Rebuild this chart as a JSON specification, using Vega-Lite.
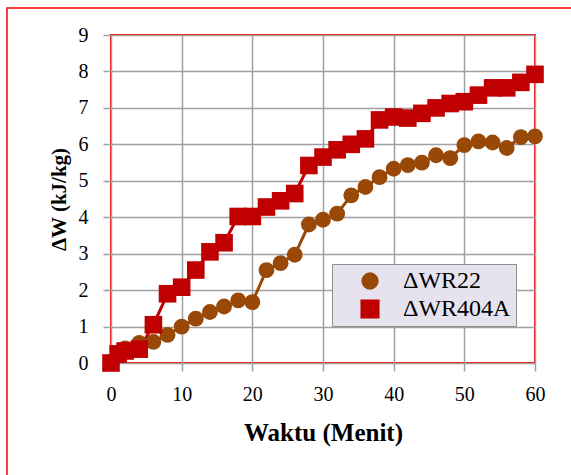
{
  "$schema": "https://vega.github.io/schema/vega-lite/v6.json",
  "autosize": {"type": "none"},
  "padding": {"left": 111, "top": 35, "right": 36, "bottom": 112},
  "width": 424,
  "height": 328,
  "background": "white",
  "config": {
    "font": "Liberation Serif, DejaVu Serif, serif",
    "view": {"stroke": "#FF0000", "strokeWidth": 2},
    "axis": {
      "labelFont": "Liberation Serif, DejaVu Serif, serif",
      "labelFontSize": 20,
      "labelColor": "#000000",
      "labelFlush": false,
      "titleFont": "Liberation Serif, DejaVu Serif, serif",
      "titleFontWeight": "bold",
      "titleColor": "#000000",
      "gridColor": "#A0A0A0",
      "gridWidth": 1.5,
      "gridOpacity": 1,
      "domain": false,
      "tickColor": "#A0A0A0",
      "tickWidth": 1.5,
      "tickSize": 8
    }
  },
  "data": {
    "values": [
      {"t": 0, "v": 0, "s": "ΔWR22"},
      {"t": 1, "v": 0.25, "s": "ΔWR22"},
      {"t": 2, "v": 0.4, "s": "ΔWR22"},
      {"t": 4, "v": 0.55, "s": "ΔWR22"},
      {"t": 6, "v": 0.58, "s": "ΔWR22"},
      {"t": 8, "v": 0.77, "s": "ΔWR22"},
      {"t": 10, "v": 1.0, "s": "ΔWR22"},
      {"t": 12, "v": 1.22, "s": "ΔWR22"},
      {"t": 14, "v": 1.4, "s": "ΔWR22"},
      {"t": 16, "v": 1.55, "s": "ΔWR22"},
      {"t": 18, "v": 1.72, "s": "ΔWR22"},
      {"t": 20, "v": 1.67, "s": "ΔWR22"},
      {"t": 22, "v": 2.55, "s": "ΔWR22"},
      {"t": 24, "v": 2.74, "s": "ΔWR22"},
      {"t": 26, "v": 2.97, "s": "ΔWR22"},
      {"t": 28, "v": 3.8, "s": "ΔWR22"},
      {"t": 30, "v": 3.93, "s": "ΔWR22"},
      {"t": 32, "v": 4.1, "s": "ΔWR22"},
      {"t": 34, "v": 4.6, "s": "ΔWR22"},
      {"t": 36, "v": 4.83, "s": "ΔWR22"},
      {"t": 38, "v": 5.1, "s": "ΔWR22"},
      {"t": 40, "v": 5.33, "s": "ΔWR22"},
      {"t": 42, "v": 5.43, "s": "ΔWR22"},
      {"t": 44, "v": 5.5, "s": "ΔWR22"},
      {"t": 46, "v": 5.7, "s": "ΔWR22"},
      {"t": 48, "v": 5.62, "s": "ΔWR22"},
      {"t": 50, "v": 5.98, "s": "ΔWR22"},
      {"t": 52, "v": 6.08, "s": "ΔWR22"},
      {"t": 54, "v": 6.05, "s": "ΔWR22"},
      {"t": 56, "v": 5.9, "s": "ΔWR22"},
      {"t": 58, "v": 6.2, "s": "ΔWR22"},
      {"t": 60, "v": 6.22, "s": "ΔWR22"},
      {"t": 0, "v": 0, "s": "ΔWR404A"},
      {"t": 1, "v": 0.25, "s": "ΔWR404A"},
      {"t": 2, "v": 0.33, "s": "ΔWR404A"},
      {"t": 4, "v": 0.38, "s": "ΔWR404A"},
      {"t": 6, "v": 1.05, "s": "ΔWR404A"},
      {"t": 8, "v": 1.9, "s": "ΔWR404A"},
      {"t": 10, "v": 2.08, "s": "ΔWR404A"},
      {"t": 12, "v": 2.55, "s": "ΔWR404A"},
      {"t": 14, "v": 3.05, "s": "ΔWR404A"},
      {"t": 16, "v": 3.3, "s": "ΔWR404A"},
      {"t": 18, "v": 4.02, "s": "ΔWR404A"},
      {"t": 20, "v": 4.02, "s": "ΔWR404A"},
      {"t": 22, "v": 4.28, "s": "ΔWR404A"},
      {"t": 24, "v": 4.45, "s": "ΔWR404A"},
      {"t": 26, "v": 4.65, "s": "ΔWR404A"},
      {"t": 28, "v": 5.42, "s": "ΔWR404A"},
      {"t": 30, "v": 5.65, "s": "ΔWR404A"},
      {"t": 32, "v": 5.85, "s": "ΔWR404A"},
      {"t": 34, "v": 6.0, "s": "ΔWR404A"},
      {"t": 36, "v": 6.15, "s": "ΔWR404A"},
      {"t": 38, "v": 6.67, "s": "ΔWR404A"},
      {"t": 40, "v": 6.75, "s": "ΔWR404A"},
      {"t": 42, "v": 6.72, "s": "ΔWR404A"},
      {"t": 44, "v": 6.85, "s": "ΔWR404A"},
      {"t": 46, "v": 7.0, "s": "ΔWR404A"},
      {"t": 48, "v": 7.12, "s": "ΔWR404A"},
      {"t": 50, "v": 7.17, "s": "ΔWR404A"},
      {"t": 52, "v": 7.35, "s": "ΔWR404A"},
      {"t": 54, "v": 7.55, "s": "ΔWR404A"},
      {"t": 56, "v": 7.55, "s": "ΔWR404A"},
      {"t": 58, "v": 7.7, "s": "ΔWR404A"},
      {"t": 60, "v": 7.92, "s": "ΔWR404A"}
    ]
  },
  "encoding": {
    "x": {
      "field": "t", "type": "quantitative",
      "scale": {"domain": [0, 60], "nice": false, "zero": false},
      "axis": {"values": [0, 10, 20, 30, 40, 50, 60], "title": "Waktu (Menit)", "titleFontSize": 25, "labelPadding": 13, "titlePadding": 16}
    },
    "y": {
      "field": "v", "type": "quantitative",
      "scale": {"domain": [0, 9], "nice": false},
      "axis": {"values": [0, 1, 2, 3, 4, 5, 6, 7, 8, 9], "title": "ΔW (kJ/kg)", "titleFontSize": 21, "labelPadding": 15, "titlePadding": 9}
    },
    "color": {
      "field": "s", "type": "nominal",
      "scale": {"domain": ["ΔWR22", "ΔWR404A"], "range": ["#984807", "#C00000"]},
      "legend": {
        "title": null,
        "orient": "none",
        "legendX": 221,
        "legendY": 229,
        "fillColor": "#E6E3EE",
        "strokeColor": "#8F8F8F",
        "padding": 5,
        "symbolOffset": 21,
        "labelFont": "Liberation Serif, DejaVu Serif, serif",
        "labelFontSize": 24,
        "labelColor": "#000000",
        "labelOffset": 21,
        "rowPadding": 4,
        "symbolOpacity": 1
      }
    }
  },
  "layer": [
    {
      "data": {"values": [{"frame": "outer"}]},
      "mark": {"type": "rect", "fill": null, "stroke": "#FF0000", "strokeWidth": 1.5, "clip": false},
      "encoding": {
        "x": {"value": -104},
        "x2": {"value": 480},
        "y": {"value": -27},
        "y2": {"value": 460},
        "color": {"value": "#FF0000"}
      }
    },
    {
      "mark": {"type": "line", "strokeWidth": 3},
      "encoding": {"detail": {"field": "s"}}
    },
    {
      "mark": {"type": "point", "filled": true, "opacity": 1},
      "encoding": {
        "shape": {
          "field": "s", "type": "nominal",
          "scale": {"domain": ["ΔWR22", "ΔWR404A"], "range": ["circle", "square"]},
          "legend": null
        },
        "size": {
          "field": "s", "type": "nominal",
          "scale": {"domain": ["ΔWR22", "ΔWR404A"], "range": [250, 310]},
          "legend": null
        }
      }
    }
  ]
}
